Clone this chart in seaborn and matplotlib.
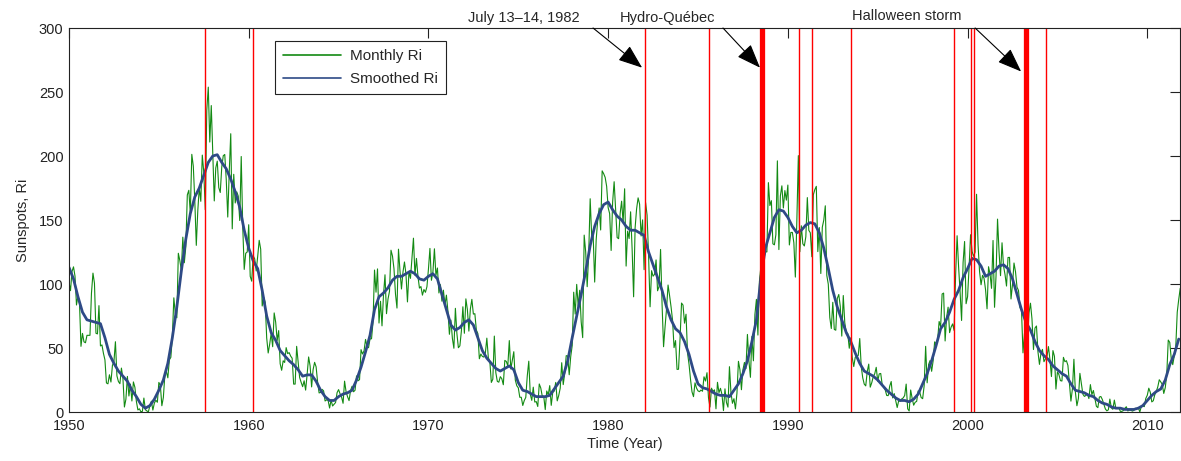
import numpy as np
import pandas as pd
import matplotlib
matplotlib.use("Agg")
import matplotlib.pyplot as plt
import seaborn as sns

# monthly sunspot number Ri, Jan 1950 .. Nov 2011
start_year = 1950
monthly_ri = [
    101.6, 94.8, 109.7, 113.4, 106.2, 83.6, 91.0, 85.2, 51.3, 61.4, 54.8, 54.1,    # 1950
    59.9, 59.9, 59.9, 92.9, 108.5, 100.6, 61.5, 61.0, 83.1, 51.6, 52.4, 45.8,      # 1951
    40.7, 22.7, 22.0, 29.1, 23.4, 36.4, 39.3, 54.9, 28.2, 23.8, 22.1, 34.3,        # 1952
    26.5, 3.9, 10.0, 27.8, 12.5, 21.8, 8.6, 23.5, 19.3, 8.2, 1.6, 2.5,             # 1953
    0.2, 0.5, 10.9, 1.8, 0.8, 0.2, 4.8, 8.4, 1.5, 7.0, 9.2, 7.6,                   # 1954
    23.1, 20.8, 4.9, 11.3, 28.9, 31.7, 26.7, 40.7, 42.7, 58.5, 89.2, 76.9,         # 1955
    73.6, 124.0, 118.4, 110.7, 136.6, 116.6, 129.1, 169.6, 173.2, 155.3, 201.3, 192.1,  # 1956
    165.0, 130.2, 157.4, 175.2, 164.6, 200.7, 187.2, 158.0, 235.8, 253.8, 210.9, 239.4, # 1957
    202.5, 164.9, 190.7, 196.0, 175.3, 171.5, 191.4, 200.2, 201.2, 181.5, 152.3, 187.6, # 1958
    217.4, 143.1, 185.7, 163.3, 172.0, 168.7, 149.6, 199.6, 145.2, 111.4, 124.0, 125.0, # 1959
    146.3, 106.0, 102.2, 122.0, 119.6, 110.2, 121.7, 134.1, 127.2, 82.8, 89.6, 85.6,    # 1960
    57.9, 46.1, 53.0, 61.4, 51.0, 77.4, 70.2, 55.9, 63.6, 37.7, 32.6, 40.0,        # 1961
    38.7, 50.3, 45.6, 46.4, 43.7, 42.0, 21.8, 21.8, 51.3, 39.5, 26.9, 23.2,        # 1962
    19.8, 24.4, 17.1, 29.3, 43.0, 35.9, 19.6, 33.2, 38.8, 35.3, 23.4, 14.9,        # 1963
    15.3, 17.7, 16.5, 8.6, 9.5, 9.1, 3.1, 9.3, 4.7, 6.1, 7.4, 15.1,                # 1964
    17.5, 14.2, 11.7, 6.8, 24.1, 15.9, 11.9, 8.9, 16.8, 20.1, 15.8, 17.0,          # 1965
    28.2, 24.4, 25.3, 48.7, 45.3, 47.7, 56.7, 51.2, 50.2, 57.2, 57.2, 70.4,        # 1966
    110.9, 93.6, 111.8, 69.5, 86.5, 67.3, 91.5, 107.2, 76.8, 88.2, 94.3, 126.4,    # 1967
    121.8, 111.9, 92.2, 81.2, 127.2, 110.3, 96.1, 109.3, 117.2, 107.7, 86.0, 109.8,  # 1968
    104.4, 120.5, 135.8, 106.8, 120.0, 106.0, 96.8, 98.0, 91.3, 95.7, 93.5, 97.9,    # 1969
    111.5, 127.8, 102.9, 109.5, 127.5, 106.8, 112.5, 93.0, 99.5, 86.6, 95.2, 83.5,   # 1970
    91.3, 79.0, 60.7, 71.8, 57.5, 49.8, 81.0, 61.4, 50.2, 51.7, 63.2, 82.2,        # 1971
    61.5, 88.4, 80.1, 63.2, 80.5, 88.0, 76.5, 76.8, 64.0, 61.3, 41.6, 45.3,        # 1972
    43.4, 42.9, 46.0, 57.7, 42.4, 39.5, 23.1, 25.6, 59.3, 30.7, 23.9, 23.3,        # 1973
    27.6, 26.0, 21.3, 40.3, 39.5, 36.0, 55.8, 33.6, 40.2, 47.1, 25.0, 20.5,        # 1974
    18.9, 11.5, 11.5, 5.1, 9.0, 11.4, 28.2, 39.7, 13.9, 9.1, 19.4, 7.8,            # 1975
    8.1, 4.3, 21.9, 18.8, 12.4, 12.2, 1.9, 16.4, 13.5, 20.6, 5.2, 15.3,            # 1976
    16.4, 23.1, 8.7, 12.9, 18.6, 38.5, 21.4, 30.1, 44.0, 43.8, 29.1, 43.2,         # 1977
    51.9, 93.6, 76.5, 99.7, 82.7, 95.1, 70.4, 58.1, 138.2, 125.1, 97.9, 122.7,     # 1978
    166.6, 137.5, 138.0, 101.5, 134.4, 149.5, 159.4, 142.2, 188.4, 186.2, 183.3, 176.3,  # 1979
    159.6, 155.0, 126.2, 164.1, 179.9, 157.3, 136.3, 135.4, 155.0, 164.7, 147.9, 174.4,  # 1980
    114.0, 141.3, 135.5, 156.4, 127.5, 90.0, 143.8, 158.7, 167.3, 162.4, 137.5, 150.1,   # 1981
    111.2, 163.6, 153.8, 122.0, 82.2, 110.4, 106.1, 107.6, 118.8, 94.7, 98.1, 127.0,     # 1982
    84.3, 51.0, 66.5, 80.7, 99.2, 91.1, 82.2, 71.8, 50.3, 55.8, 33.3, 33.4,        # 1983
    57.0, 85.1, 83.5, 69.4, 76.4, 46.1, 37.4, 25.5, 15.7, 12.0, 22.8, 18.7,        # 1984
    16.5, 15.9, 17.2, 16.2, 27.5, 24.2, 30.7, 11.1, 3.9, 18.6, 16.2, 17.3,         # 1985
    2.5, 23.2, 15.1, 18.5, 13.7, 1.1, 18.1, 7.4, 3.8, 35.4, 15.2, 6.8,             # 1986
    10.4, 2.4, 14.7, 39.6, 33.0, 17.4, 33.0, 38.7, 33.9, 60.6, 39.9, 27.1,         # 1987
    59.0, 40.0, 76.2, 88.0, 60.1, 101.8, 113.8, 111.6, 120.1, 125.1, 125.1, 179.2,  # 1988
    161.3, 165.1, 131.4, 130.6, 138.5, 196.2, 126.9, 168.9, 176.7, 159.4, 173.0, 165.5,  # 1989
    177.3, 130.5, 140.3, 140.3, 132.2, 105.4, 149.4, 200.3, 125.2, 145.5, 131.4, 129.7,  # 1990
    136.9, 167.5, 141.9, 140.0, 121.3, 169.7, 173.7, 176.3, 125.3, 144.1, 108.2, 144.4,  # 1991
    150.0, 161.1, 106.7, 99.8, 73.8, 65.2, 85.7, 64.5, 63.9, 88.7, 91.8, 82.6,     # 1992
    59.3, 91.0, 69.8, 62.2, 61.3, 49.8, 57.9, 42.4, 35.5, 42.8, 43.8, 44.2,        # 1993
    57.4, 35.4, 26.7, 21.8, 20.4, 31.6, 37.4, 19.4, 22.8, 27.5, 29.9, 34.9,        # 1994
    24.0, 29.8, 30.1, 21.3, 19.3, 17.4, 12.9, 12.8, 20.2, 23.8, 11.0, 14.4,        # 1995
    9.0, 3.5, 8.8, 8.4, 10.2, 11.0, 12.9, 21.8, 2.5, 0.8, 17.2, 10.7,              # 1996
    5.3, 7.6, 8.3, 16.5, 15.7, 11.3, 10.4, 20.4, 51.3, 22.8, 37.2, 40.3,           # 1997
    31.8, 40.0, 54.8, 53.4, 56.3, 70.7, 66.6, 92.2, 92.9, 55.5, 74.0, 81.9,        # 1998
    62.0, 66.3, 68.8, 63.7, 106.4, 137.7, 113.5, 93.7, 71.5, 116.7, 133.2, 84.6,   # 1999
    90.1, 112.9, 138.5, 125.5, 121.6, 124.9, 170.1, 130.5, 109.7, 99.4, 106.8, 104.4,  # 2000
    95.6, 80.6, 113.5, 107.7, 96.6, 134.0, 81.8, 106.4, 150.7, 125.5, 106.5, 132.2,    # 2001
    114.1, 107.4, 98.4, 120.7, 120.8, 88.3, 99.6, 116.4, 109.6, 97.5, 95.0, 81.6,      # 2002
    79.5, 46.2, 61.5, 60.0, 55.2, 77.4, 85.0, 72.7, 48.8, 65.6, 67.2, 47.0,        # 2003
    37.2, 46.0, 48.9, 39.3, 41.5, 43.2, 51.1, 40.9, 27.7, 48.0, 43.5, 17.9,        # 2004
    31.3, 29.2, 24.5, 24.2, 42.7, 39.3, 40.1, 36.4, 22.1, 8.5, 18.0, 41.2,         # 2005
    15.3, 4.9, 10.6, 30.2, 22.3, 13.9, 12.2, 12.9, 14.4, 10.5, 21.4, 13.6,         # 2006
    16.8, 10.7, 4.5, 3.4, 11.7, 12.1, 9.7, 6.0, 2.4, 0.9, 1.7, 10.1,               # 2007
    3.3, 2.1, 9.3, 2.9, 3.2, 3.4, 0.5, 0.5, 1.1, 2.9, 4.1, 0.8,                    # 2008
    1.5, 1.4, 0.7, 1.2, 2.9, 2.6, 3.5, 0.0, 4.2, 4.6, 4.2, 10.6,                   # 2009
    13.1, 18.6, 15.4, 7.9, 8.8, 13.5, 16.1, 19.6, 25.2, 23.5, 21.6, 14.5,          # 2010
    19.0, 29.4, 56.2, 54.4, 41.6, 37.0, 43.9, 50.6, 78.0, 88.0, 96.7,              # 2011
]

# smoothed Ri, one value per quarter from 1950.0
smoothed_ri = [
    113, 104, 90, 78,   72, 71, 70, 69,   58, 45, 38, 32,   28, 24, 17, 12,      # 1950-53
    6, 3, 5, 10,   17, 25, 38, 58,   82, 110, 135, 155,   168, 175, 185, 195,    # 1954-57
    200, 201, 195, 190,   182, 172, 160, 142,   128, 118, 112, 95,   75, 62, 56, 48,  # 1958-61
    44, 40, 37, 33,   28, 29, 29, 24,   17, 12, 9, 9,   12, 14, 15, 17,          # 1962-65
    25, 35, 47, 60,   80, 90, 93, 97,   103, 106, 106, 108,   110, 108, 104, 103,  # 1966-69
    106, 108, 104, 92,   80, 68, 64, 66,   70, 72, 68, 58,   48, 42, 38, 34,      # 1970-73
    32, 34, 36, 33,   23, 17, 16, 14,   12, 12, 12, 13,   18, 23, 28, 40,        # 1974-77
    58, 75, 92, 110,   130, 145, 155, 162,   164, 158, 153, 150,   145, 142, 142, 140,  # 1978-81
    138, 125, 115, 105,   95, 82, 72, 65,   62, 55, 45, 32,   22, 19, 18, 16,     # 1982-85
    14, 13, 13, 12,   17, 22, 30, 40,   55, 72, 105, 128,   140, 152, 158, 157,  # 1986-89
    152, 145, 140, 142,   146, 148, 147, 140,   128, 112, 95, 82,   72, 62, 55, 46,  # 1990-93
    38, 32, 30, 28,   25, 21, 17, 14,   11, 9, 9, 8,   10, 14, 22, 30,           # 1994-97
    40, 52, 65, 70,   78, 88, 95, 105,   112, 120, 119, 114,   106, 108, 110, 114,  # 1998-01
    115, 112, 104, 92,   80, 70, 64, 55,   48, 44, 41, 36,   33, 30, 28, 22,      # 2002-05
    17, 16, 15, 13,   12, 9, 7, 6,   4, 3, 3, 2,   2, 2, 3, 5,                   # 2006-09
    9, 13, 16, 18,   25, 37, 45, 57,                                             # 2010-11
]

# storm dates marked by red lines
event_years = [1957.57, 1960.24, 1982.05, 1985.61, 1990.64, 1991.33, 1993.5,
               1999.25, 2000.19, 2000.36, 2004.37]
major_event_years = [1988.56, 2003.27]

note_labels = ["July 13\u201314, 1982", "Hydro-Qu\u00e9bec", "Halloween storm"]
note_tip = [(1981.89, 269), (1988.45, 269), (2002.98, 266)]
note_tail = [(1979.16, 300), (1986.39, 300), (2000.42, 300)]
note_text = [(1975.3, 308), (1983.3, 308), (1996.6, 309)]

monthly = pd.DataFrame({"year": start_year + np.arange(len(monthly_ri)) / 12.0,
                        "ri": monthly_ri})
smoothed = pd.DataFrame({"year": start_year + np.arange(len(smoothed_ri)) / 4.0,
                         "ri": smoothed_ri})

sns.set_style("white")
plt.rcParams["font.family"] = ["Liberation Sans", "DejaVu Sans"]

fig = plt.figure(figsize=(11.81, 4.61), dpi=100)
ax = fig.add_axes([69 / 1181, 49 / 461, 1111 / 1181, 384 / 461])

sns.lineplot(data=monthly, x="year", y="ri", color="#138a13", lw=0.8,
             label="Monthly Ri", ax=ax)
sns.lineplot(data=smoothed, x="year", y="ri", color="#2e4a86", lw=2.0,
             label="Smoothed Ri", ax=ax)

for yr in event_years:
    ax.axvline(yr, color="#ff0000", lw=1.0)
for yr in major_event_years:
    ax.axvline(yr, color="#ff0000", lw=3.8)

for label, tip, tail, txt in zip(note_labels, note_tip, note_tail, note_text):
    ax.annotate("", xy=tip, xytext=tail, annotation_clip=False,
                arrowprops=dict(arrowstyle="-|>,head_length=1.0,head_width=0.38",
                                color="k", lw=0.8, mutation_scale=15,
                                shrinkA=0, shrinkB=0))
    ax.text(txt[0], txt[1], label, ha="center", va="center", fontsize=10.5,
            clip_on=False)

ax.set_xlim(1950, 2011.82)
ax.set_ylim(0, 300)
ax.set_xticks(range(1950, 2011, 10))
ax.set_yticks(range(0, 301, 50))
ax.set_xlabel("Time (Year)", fontsize=10.5, labelpad=3)
ax.set_ylabel("Sunspots, Ri", fontsize=10.5, labelpad=6)
ax.tick_params(direction="in", top=True, right=True, length=7, width=0.8,
               labelsize=10.5, colors="#222222")
ax.tick_params(axis="x", pad=5)
ax.tick_params(axis="y", pad=4)
for s in ax.spines.values():
    s.set_color("#222222")
    s.set_linewidth(0.8)

leg = ax.legend(loc="upper left", bbox_to_anchor=(0.185, 0.966),
                borderaxespad=0, fancybox=False, framealpha=1,
                edgecolor="#222222", fontsize=11, handlelength=3.8,
                handletextpad=0.6, labelspacing=0.55, borderpad=0.55)
leg.get_frame().set_linewidth(0.8)
for h in leg.get_lines():
    h.set_linewidth(1.2)

fig.savefig("out.png", dpi=100)
